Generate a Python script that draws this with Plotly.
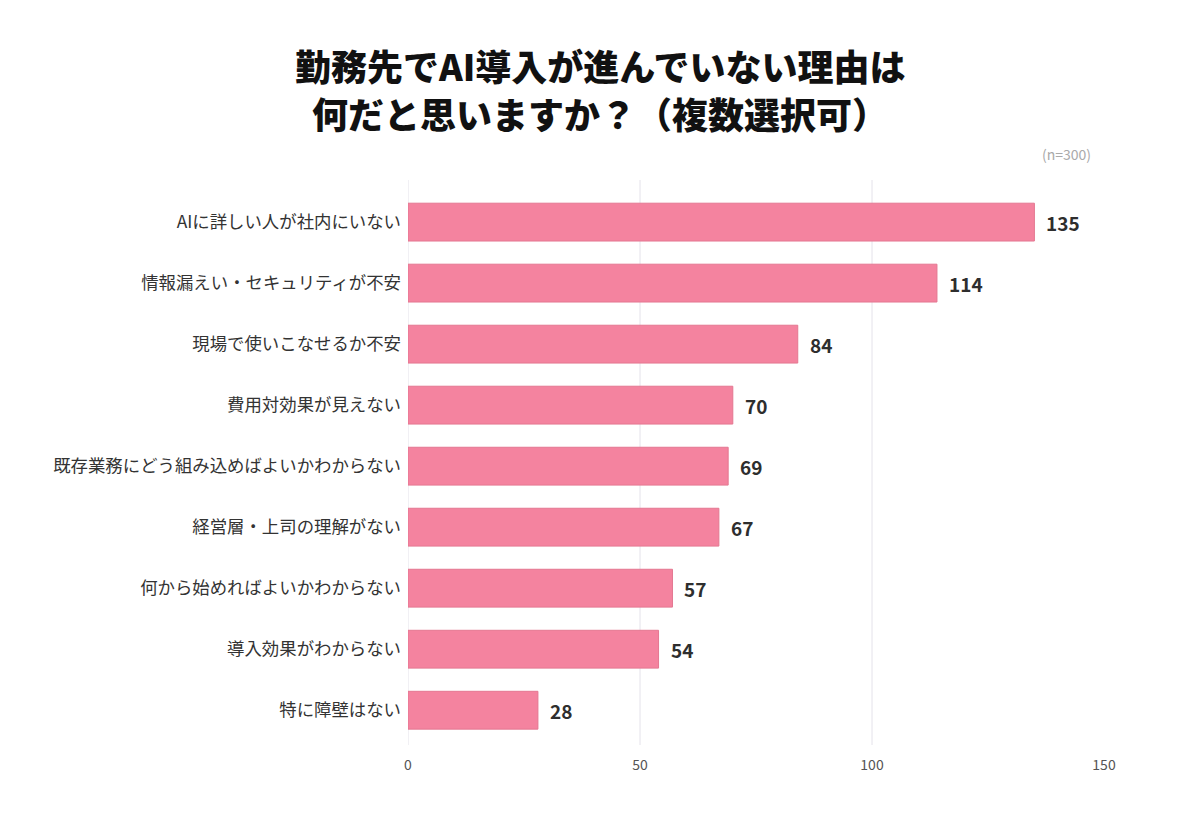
import plotly.graph_objects as go

categories = [
    "AIに詳しい人が社内にいない",
    "情報漏えい・セキュリティが不安",
    "現場で使いこなせるか不安",
    "費用対効果が見えない",
    "既存業務にどう組み込めばよいかわからない",
    "経営層・上司の理解がない",
    "何から始めればよいかわからない",
    "導入効果がわからない",
    "特に障壁はない",
]
values = [135, 114, 84, 70, 69, 67, 57, 54, 28]
tick_vals = [0, 50, 100, 150]
title_lines = ["勤務先でAI導入が進んでいない理由は", "何だと思いますか？（複数選択可）"]

FONT = "Noto Sans CJK JP"
BAR = "#F4839F"

fig = go.Figure()
fig.add_trace(go.Bar(
    x=values, y=categories, orientation="h",
    marker=dict(color=BAR, line=dict(color="#E47791", width=1)),
    width=0.62, hoverinfo="skip",
))

for c, v in zip(categories, values):
    fig.add_annotation(x=v, y=c, text=f"<b>{v}</b>", showarrow=False,
                       xanchor="left", xshift=10,
                       font=dict(family=FONT, size=19, color="#2E2E2E"))

for t in tick_vals[:-1]:
    fig.add_shape(type="line", xref="x", yref="paper", x0=t, x1=t, y0=0, y1=1,
                  line=dict(color="#E4E2EA", width=1), layer="below")

# title as two separately placed lines (pixel rows 65 and 113 of the page)
for i, line in enumerate(title_lines):
    fig.add_annotation(xref="paper", yref="paper", x=(600 - 408) / 696,
                       y=1 + (180 - (65 + 48 * i)) / 565,
                       xanchor="center", yanchor="middle", showarrow=False,
                       text=line, font=dict(family=FONT, size=36, color="#111111", weight=900))

fig.add_annotation(xref="paper", yref="paper", x=0.984, y=1.0, yshift=26,
                   xanchor="right", yanchor="middle", showarrow=False,
                   text="(n=300)", font=dict(family=FONT, size=14, color="#AAAAAA"))

fig.update_layout(
    width=1200, height=818,
    margin=dict(l=408, r=96, t=180, b=73),
    paper_bgcolor="white", plot_bgcolor="white",
    showlegend=False,
    xaxis=dict(range=[0, 150], tickvals=tick_vals, showgrid=False, zeroline=False,
               showline=False, ticks="", ticklabelstandoff=10,
               tickfont=dict(family=FONT, size=14, color="#555555")),
    yaxis=dict(autorange=False, range=[8.57, -0.69], showgrid=False, zeroline=False,
               showline=False, ticks="", ticklabelstandoff=6,
               tickfont=dict(family=FONT, size=17.4, color="#333333")),
)

fig.write_html("out.html")
